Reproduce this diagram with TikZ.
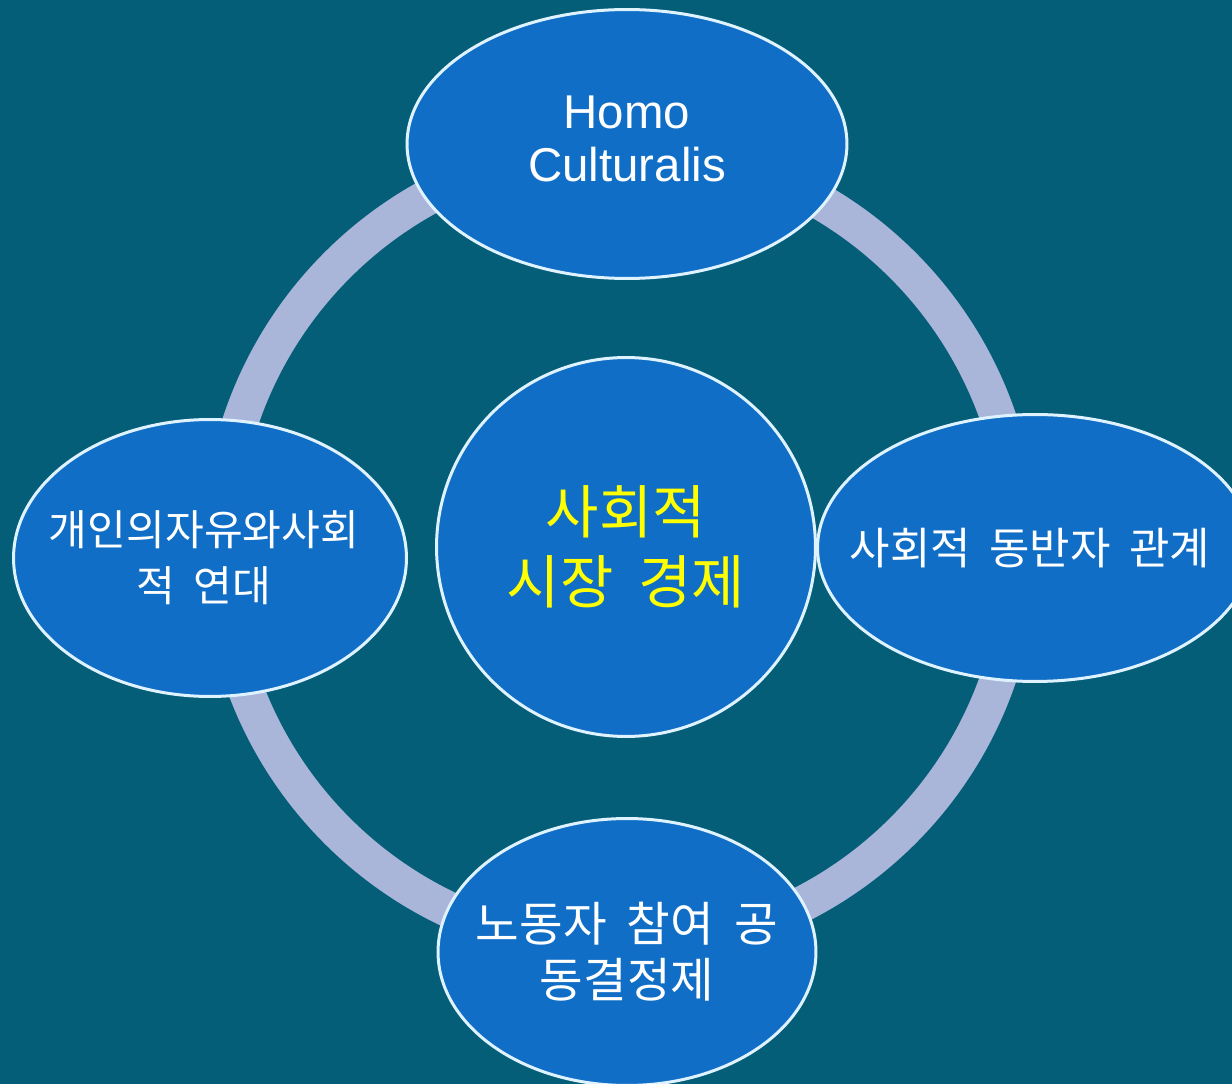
\documentclass[tikz,border=0pt]{standalone}
\usepackage{fontspec}
\setmainfont{Liberation Sans}
\newfontfamily\kofont{Noto Sans CJK KR}[WordSpace=3]
\newfontfamily\kofontn{Noto Sans CJK KR}[WordSpace=1.9]
\usetikzlibrary{shapes.geometric}
\definecolor[named]{SlideTeal}{RGB}{5,94,119}
\definecolor[named]{BubbleBlue}{RGB}{16,110,199}
\definecolor[named]{RingLilac}{RGB}{169,181,217}
\definecolor[named]{RimWhite}{RGB}{222,242,255}
\definecolor[named]{MarketYellow}{RGB}{255,255,0}
\tikzset{
  bubble/.style={ellipse,draw=RimWhite,line width=0.06cm,fill=BubbleBlue,inner sep=0pt},
  say/.style={text=white,align=center,inner sep=0pt},
  ring/.style={draw=RingLilac,line width=0.72cm},
}

\begin{document}
\begin{tikzpicture}[x=0.02cm,y=-0.02cm]
    % Page and background
    \useasboundingbox (0,0) rectangle (1232,1084);
    \fill[SlideTeal] (0,0) rectangle (1232,1084);

    % The ring behind the bubbles
    \coordinate (RC) at (620,548);
    \draw[ring] (RC) circle[radius=8cm];

    % Bubbles on the ring
    \begin{scope}[every node/.append style={bubble}]
      \node[minimum width=8.8cm,minimum height=5.38cm,
        label={[say,font=\fontsize{27}{30}\selectfont,yshift=0.1cm]center:{Homo\\Culturalis}}]
        (homo) at (627,144) {};
      \node[minimum width=8.7cm,minimum height=5.34cm,
        label={[say,font=\kofont\fontsize{25}{30}\selectfont,xshift=-0.1cm]center:{사회적 동반자 관계}}]
        (partner) at (1035,548) {};
      \node[minimum width=7.86cm,minimum height=5.54cm,
        label={[say,font=\kofontn\fontsize{24}{32}\selectfont,xshift=-0.12cm]center:{개인의자유와사회\\적 연대}}]
        (freedom) at (210,558) {};
      \node[minimum width=7.56cm,minimum height=5.34cm,
        label={[say,font=\kofontn\fontsize{27}{32}\selectfont]center:{노동자 참여 공\\동결정제}}]
        (codet) at (627,952) {};
    \end{scope}

    % Centre
    \node[bubble,circle,minimum size=7.58cm,
      label={[say,text=MarketYellow,font=\kofontn\fontsize{33}{40}\selectfont]center:{사회적\\시장 경제}}]
      (market) at (626,547) {};
\end{tikzpicture}
\end{document}
